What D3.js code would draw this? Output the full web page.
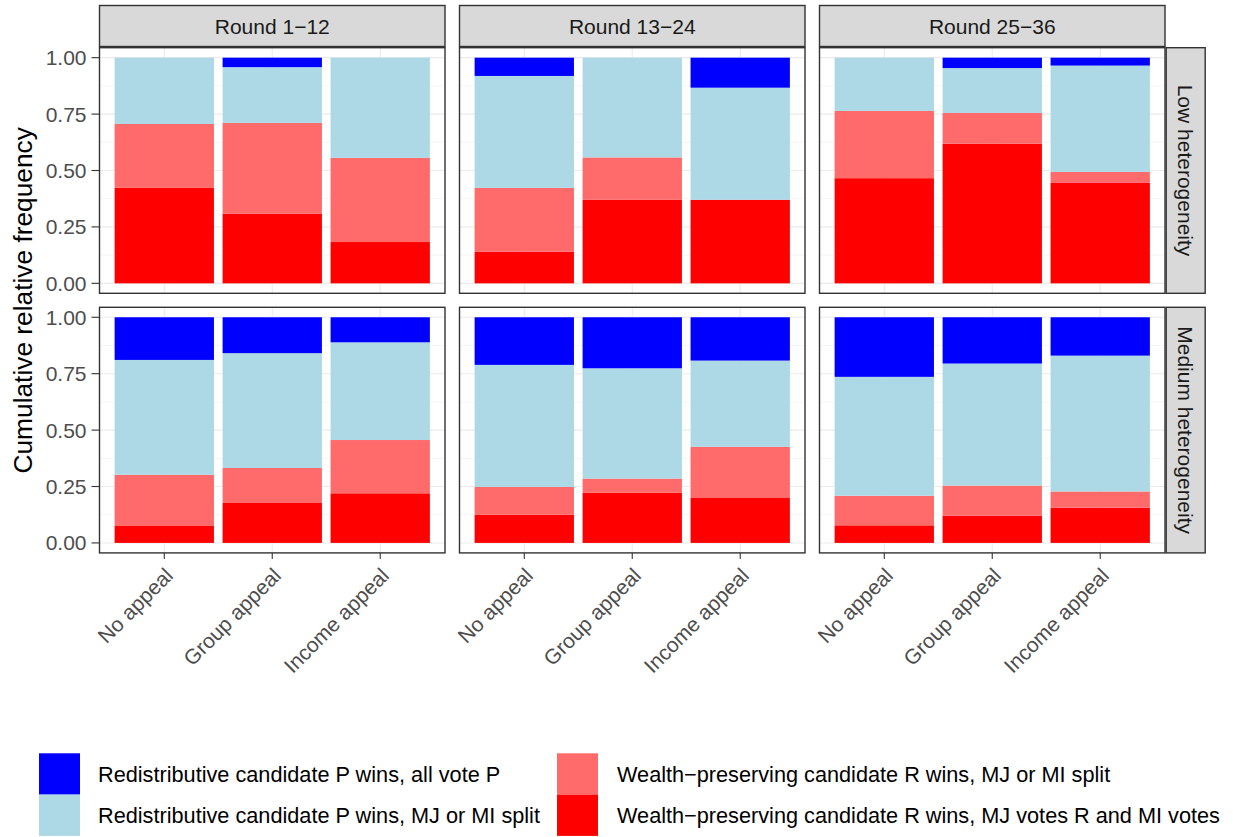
<!DOCTYPE html>
<html><head><meta charset="utf-8">
<script src="https://cdn.jsdelivr.net/npm/d3@7"></script>
<style>body{margin:0;background:#fff} svg{display:block} text{font-family:"Liberation Sans",Arial,Helvetica,sans-serif}</style>
</head><body><svg id="c" width="1233" height="837"></svg>
<script>
// ---- data ----
const rounds = ["Round 1−12", "Round 13−24", "Round 25−36"];
const heterogeneity = ["Low heterogeneity", "Medium heterogeneity"];
const appeals = ["No appeal", "Group appeal", "Income appeal"];
const seriesLabels = [
  "Redistributive candidate P wins, all vote P",
  "Redistributive candidate P wins, MJ or MI split",
  "Wealth−preserving candidate R wins, MJ or MI split",
  "Wealth−preserving candidate R wins, MJ votes R and MI votes"
];
const seriesColors = ["#0000FF", "#ADD8E6", "#FF6A6A", "#FF0000"];
// values ordered: heterogeneity (Low, Medium) × round (1-12, 13-24, 25-36) × appeal (No, Group, Income)
const pAllVoteP = [0.000, 0.042, 0.000,  0.081, 0.000, 0.133,  0.000, 0.046, 0.035,
                   0.189, 0.159, 0.111,  0.211, 0.226, 0.192,  0.264, 0.205, 0.170];
const pSplit    = [0.294, 0.247, 0.444,  0.496, 0.442, 0.497,  0.236, 0.199, 0.471,
                   0.509, 0.509, 0.433,  0.541, 0.489, 0.382,  0.527, 0.541, 0.602];
const rSplit    = [0.283, 0.403, 0.373,  0.283, 0.188, 0.000,  0.298, 0.136, 0.049,
                   0.227, 0.155, 0.236,  0.123, 0.062, 0.227,  0.131, 0.133, 0.072];
const rAllVoteR = [0.423, 0.308, 0.183,  0.140, 0.370, 0.370,  0.466, 0.619, 0.445,
                   0.075, 0.177, 0.220,  0.125, 0.223, 0.199,  0.078, 0.121, 0.156];
const yTicks = [0, 0.25, 0.5, 0.75, 1];
const yMinor = [0.125, 0.375, 0.625, 0.875];
const yTitle = "Cumulative relative frequency";

// ---- build table ----
const rows = [];
let i = 0;
heterogeneity.forEach(h => rounds.forEach(r => appeals.forEach(a => {
  rows.push({het: h, round: r, appeal: a, s0: pAllVoteP[i], s1: pSplit[i], s2: rSplit[i], s3: rAllVoteR[i]});
  i++;
})));
const keys = ["s0", "s1", "s2", "s3"];
// stack: bottom is s3 (red), top is s0 (blue)
const stackGen = d3.stack().keys(["s3", "s2", "s1", "s0"]);

// ---- layout ----
const svg = d3.select("#c");
const panelX0 = 99.5, panelW = 345.5, panelGapX = 14.5;
const panelY0 = 47.7, panelH = 245.6, panelGapY = 14;
const stripTop = 5.5, stripH = 41;
const fmt = d3.format(".2f");
const AX = "#4D4D4D", BORDER = "#333333";

const colX = rounds.map((r, c) => panelX0 + c * (panelW + panelGapX));
const rowY = heterogeneity.map((h, k) => panelY0 + k * (panelH + panelGapY));

heterogeneity.forEach((h, ri) => {
  const py = rowY[ri];
  const y = d3.scaleLinear().domain([-0.0442, 1.0442]).range([py + panelH, py]);
  rounds.forEach((r, ci) => {
    const px = colX[ci];
    const x = d3.scalePoint().domain(appeals).range([px, px + panelW]).padding(0.6);
    const bw = x.step() * 0.92;
    const g = svg.append("g");
    g.append("rect").attr("x", px).attr("y", py).attr("width", panelW).attr("height", panelH).attr("fill", "#fff");
    // grid
    g.selectAll(".mn").data(yMinor).join("line")
      .attr("x1", px).attr("x2", px + panelW).attr("y1", d => y(d)).attr("y2", d => y(d))
      .attr("stroke", "#EBEBEB").attr("stroke-width", 0.55);
    g.selectAll(".mj").data(yTicks).join("line")
      .attr("x1", px).attr("x2", px + panelW).attr("y1", d => y(d)).attr("y2", d => y(d))
      .attr("stroke", "#EBEBEB").attr("stroke-width", 1.1);
    g.selectAll(".vx").data(appeals).join("line")
      .attr("x1", d => x(d)).attr("x2", d => x(d)).attr("y1", py).attr("y2", py + panelH)
      .attr("stroke", "#EBEBEB").attr("stroke-width", 1.1);
    // bars
    const data = rows.filter(d => d.het === h && d.round === r);
    const stacked = stackGen(data);
    stacked.forEach(layer => {
      const col = seriesColors[keys.indexOf(layer.key)];
      g.selectAll(null).data(layer).join("rect")
        .attr("x", d => x(d.data.appeal) - bw / 2)
        .attr("width", bw)
        .attr("y", d => y(d[1]))
        .attr("height", d => Math.max(0, y(d[0]) - y(d[1])))
        .attr("fill", col);
    });
    // border
    g.append("rect").attr("x", px).attr("y", py).attr("width", panelW).attr("height", panelH)
      .attr("fill", "none").attr("stroke", BORDER).attr("stroke-width", 1.4);
    // y axis on first column
    if (ci === 0) {
      const ya = g.append("g");
      yTicks.forEach(t => {
        ya.append("line").attr("x1", px - 8).attr("x2", px).attr("y1", y(t)).attr("y2", y(t))
          .attr("stroke", BORDER).attr("stroke-width", 1.1);
        ya.append("text").attr("x", px - 13).attr("y", y(t)).attr("dy", "0.36em")
          .attr("text-anchor", "end").attr("font-size", 21).attr("fill", AX).text(fmt(t));
      });
    }
    // x axis on bottom row
    if (ri === heterogeneity.length - 1) {
      appeals.forEach(a => {
        g.append("line").attr("x1", x(a)).attr("x2", x(a)).attr("y1", py + panelH).attr("y2", py + panelH + 6)
          .attr("stroke", BORDER).attr("stroke-width", 1.1);
        g.append("text").attr("transform", `translate(${x(a) + 10},${py + panelH + 24}) rotate(-45)`)
          .attr("text-anchor", "end").attr("font-size", 21).attr("fill", AX).text(a);
      });
    }
    // top strip
    if (ri === 0) {
      g.append("rect").attr("x", px).attr("y", stripTop).attr("width", panelW).attr("height", stripH)
        .attr("fill", "#D9D9D9").attr("stroke", BORDER).attr("stroke-width", 1.4);
      g.append("text").attr("x", px + panelW / 2).attr("y", 34.3).attr("text-anchor", "middle")
        .attr("font-size", 21).attr("fill", "#1A1A1A").text(r);
    }
    // right strip
    if (ci === rounds.length - 1) {
      const sx = px + panelW + 1.2;
      g.append("rect").attr("x", sx).attr("y", py).attr("width", 39).attr("height", panelH)
        .attr("fill", "#D9D9D9").attr("stroke", BORDER).attr("stroke-width", 1.4);
      g.append("text").attr("transform", `translate(${sx + 12},${py + panelH / 2}) rotate(90)`)
        .attr("text-anchor", "middle").attr("font-size", 21).attr("fill", "#1A1A1A").text(h);
    }
  });
});

// y title
svg.append("text").attr("transform", `translate(32,${(rowY[0] + rowY[1] + panelH) / 2}) rotate(-90)`)
  .attr("text-anchor", "middle").attr("font-size", 26.3).attr("fill", "#000").text(yTitle);

// legend
const legCols = [{kx: 39, tx: 98}, {kx: 557, tx: 617}];
const legRows = [753.3, 794.6];
seriesLabels.forEach((lab, k) => {
  const c = legCols[Math.floor(k / 2)], rY = legRows[k % 2];
  svg.append("rect").attr("x", c.kx).attr("y", rY).attr("width", 41).attr("height", 41.3).attr("fill", seriesColors[k]);
  svg.append("text").attr("x", c.tx).attr("y", rY + 28.5).attr("font-size", 21.7).attr("fill", "#000").text(lab);
});
</script></body></html>
